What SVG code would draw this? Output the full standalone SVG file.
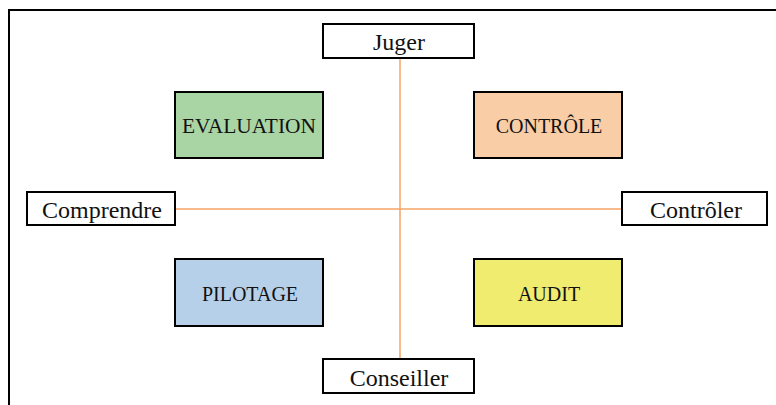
<svg xmlns="http://www.w3.org/2000/svg" width="776" height="405" viewBox="0 0 776 405">
<style>
.box{stroke:#000;stroke-width:2}
text{font-family:'Liberation Serif','DejaVu Serif',serif;fill:#111;text-anchor:middle}
.big{font-size:24px}
.mid{font-size:20px}
.con{stroke:#f4a366;stroke-width:1.5;fill:none}
</style>
<rect width="776" height="405" fill="#fff"/>
<rect x="9" y="10" width="800" height="500" fill="none" stroke="#000" stroke-width="2"/>
<g id="connectors">
<line class="con" x1="400" y1="59" x2="400" y2="359"/>
<line class="con" x1="176" y1="209" x2="622" y2="209"/>
</g>
<g id="juger"><rect class="box" x="323" y="24" width="151" height="34" fill="#fff"/><text class="big" x="399" y="50" font-family="Liberation Serif">Juger</text></g>
<g id="evaluation"><rect class="box" x="175" y="92" width="148" height="66" fill="#a9d5a5"/><text class="mid" x="249" y="133" textLength="134" lengthAdjust="spacingAndGlyphs" font-family="Liberation Serif">EVALUATION</text></g>
<g id="controle"><rect class="box" x="474" y="92" width="148" height="66" fill="#f9cda6"/><text class="mid" x="549" y="133" font-family="Liberation Serif">CONTRÔLE</text></g>
<g id="comprendre"><rect class="box" x="27" y="192" width="148" height="33" fill="#fff"/><text class="big" x="102" y="218" font-family="Liberation Serif">Comprendre</text></g>
<g id="controler"><rect class="box" x="622" y="192" width="145" height="33" fill="#fff"/><text class="big" x="696" y="218" font-family="Liberation Serif">Contrôler</text></g>
<g id="pilotage"><rect class="box" x="175" y="259" width="148" height="67" fill="#b7d0ea"/><text class="mid" x="250" y="301" font-family="Liberation Serif">PILOTAGE</text></g>
<g id="audit"><rect class="box" x="474" y="259" width="148" height="67" fill="#efec70"/><text class="mid" x="549" y="301" font-family="Liberation Serif">AUDIT</text></g>
<g id="conseiller"><rect class="box" x="323" y="359" width="151" height="34" fill="#fff"/><text class="big" x="399" y="386" font-family="Liberation Serif">Conseiller</text></g>
</svg>
